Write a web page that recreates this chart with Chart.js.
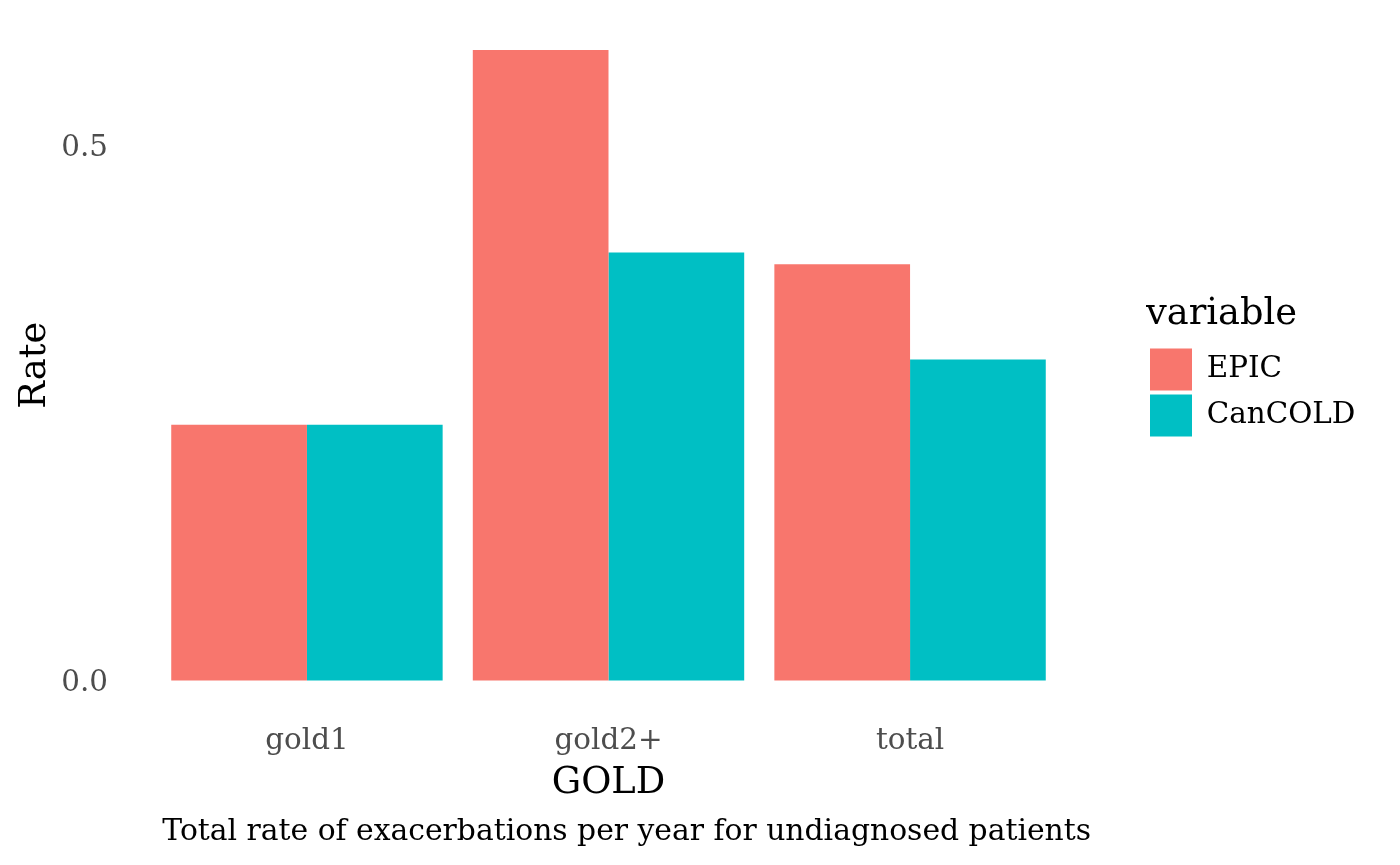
<!DOCTYPE html>
<html>
<head>
<meta charset="utf-8">
<script src="https://cdn.jsdelivr.net/npm/chart.js@4.4.1/dist/chart.umd.min.js"></script>
<style>
html, body { margin: 0; padding: 0; background: #fff; }
#wrap { width: 1400px; height: 865px; }
</style>
</head>
<body>
<div id="wrap"><canvas id="chart"></canvas></div>
<script>
// data
var categories = ["gold1", "gold2+", "total"];
var seriesNames = ["EPIC", "CanCOLD"];
var epic = [0.239, 0.589, 0.389];
var cancold = [0.239, 0.400, 0.300];
var yTicks = [0.0, 0.5];
var colors = ["#F8766D", "#00BFC4"];

var serif = "'DejaVu Serif', serif";
Chart.defaults.font.family = serif;

function points(values) {
  return values.map(function (v, i) { return { x: i + 1, y: v }; });
}

var ctx = document.getElementById('chart').getContext('2d');
var chart = new Chart(ctx, {
  type: 'bar',
  data: {
    datasets: [
      { label: seriesNames[0], data: points(epic), backgroundColor: colors[0], borderWidth: 0 },
      { label: seriesNames[1], data: points(cancold), backgroundColor: colors[1], borderWidth: 0 }
    ]
  },
  options: {
    responsive: true,
    maintainAspectRatio: false,
    animation: false,
    categoryPercentage: 0.9,
    barPercentage: 1.0,
    layout: { padding: { left: 13, right: 40, top: 18.6, bottom: 5 } },
    scales: {
      x: {
        type: 'linear',
        offset: false,
        min: 0.4,
        max: categories.length + 0.6,
        grid: { display: false, drawTicks: false },
        border: { display: false },
        afterBuildTicks: function (s) {
          s.ticks = categories.map(function (c, i) { return { value: i + 1 }; });
        },
        ticks: {
          padding: 12,
          color: '#4D4D4D',
          font: { size: 29.4 },
          callback: function (v) { return categories[v - 1]; }
        },
        title: { display: true, text: 'GOLD', color: '#000', font: { size: 36.8 }, padding: { top: -9.5, bottom: 0 } }
      },
      y: {
        min: -0.02945,
        max: 0.61845,
        grid: { display: false, drawTicks: false },
        border: { display: false },
        afterBuildTicks: function (s) {
          s.ticks = yTicks.map(function (v) { return { value: v }; });
        },
        afterFit: function (s) {
          s.width = 113;
          s.paddingTop = 0;
          s.paddingBottom = 0;
        },
        ticks: {
          padding: 18,
          labelOffset: 3,
          color: '#4D4D4D',
          font: { size: 29.4 },
          callback: function (v) { return v.toFixed(1); }
        },
        title: { display: true, text: 'Rate', color: '#000', font: { size: 36.8 }, padding: { top: 0, bottom: 6 } }
      },
      gap: {
        position: 'right',
        grid: { display: false, drawTicks: false },
        border: { display: false },
        ticks: { display: false },
        afterFit: function (s) { s.width = 55; }
      }
    },
    plugins: {
      legend: {
        position: 'right',
        fullSize: false,
        maxWidth: 214,
        labels: {
          boxWidth: 42,
          boxHeight: 42,
          padding: 4,
          color: '#000',
          font: { size: 29.4 }
        },
        title: {
          display: true,
          text: 'variable',
          position: 'start',
          color: '#000',
          font: { size: 36.8 },
          padding: { top: 6, bottom: 4 }
        }
      },
      title: {
        display: true,
        position: 'bottom',
        align: 'end',
        fullSize: false,
        text: 'Total rate of exacerbations per year for undiagnosed patients',
        color: '#000',
        font: { size: 29.8, weight: 'normal' },
        padding: { top: 8.3, bottom: 10 }
      },
      tooltip: { enabled: false }
    }
  }
});
</script>
</body>
</html>
